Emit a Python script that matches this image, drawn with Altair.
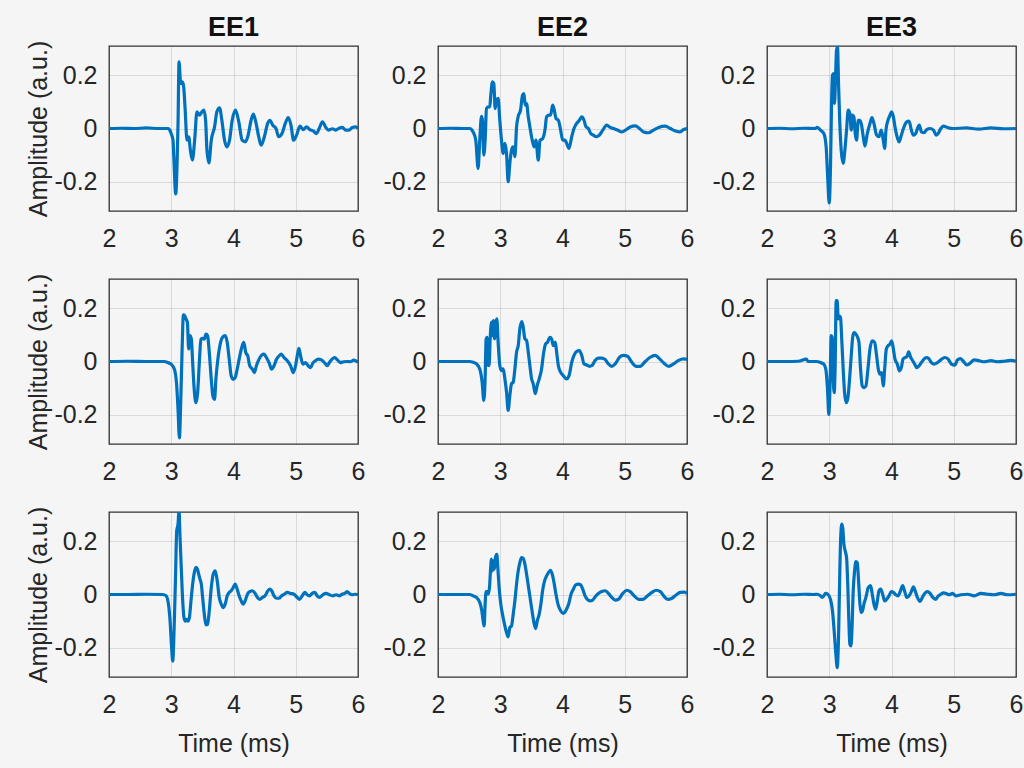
import altair as alt
import pandas as pd

# ---- Row 1 ----
T11 = [2.0, 2.2, 2.4, 2.6, 2.8, 2.95, 2.976, 3.0, 3.029, 3.04, 3.072, 3.095, 3.109, 3.125, 3.152, 3.179, 3.2, 3.221, 3.253, 3.28, 3.307, 3.339, 3.376, 3.413, 3.456, 3.493, 3.525, 3.552, 3.573, 3.605, 3.643, 3.696, 3.733, 3.776, 3.813, 3.856, 3.893, 3.936, 3.979, 4.032, 4.085, 4.139, 4.187, 4.229, 4.283, 4.32, 4.363, 4.405, 4.443, 4.496, 4.549, 4.587, 4.629, 4.683, 4.725, 4.779, 4.832, 4.88, 4.923, 4.965, 5.013, 5.067, 5.12, 5.173, 5.227, 5.28, 5.333, 5.376, 5.429, 5.483, 5.525, 5.589, 5.643, 5.696, 5.749, 5.803, 5.856, 5.909, 5.963, 6.0]
A11 = [0.0, 0.001, 0.0, 0.002, 0.0, 0.0, -0.006, -0.02, -0.044, -0.1, -0.246, -0.12, 0.02, 0.25, 0.169, 0.175, 0.156, 0.081, -0.044, -0.031, -0.081, -0.119, -0.044, 0.063, 0.05, 0.063, 0.069, 0.031, -0.081, -0.129, -0.044, 0.006, 0.063, 0.078, 0.031, -0.044, -0.069, -0.044, 0.031, 0.069, 0.025, -0.044, -0.05, -0.031, 0.031, 0.054, 0.019, -0.031, -0.063, -0.031, 0.019, 0.031, 0.013, 0.0, -0.031, -0.019, 0.019, 0.041, 0.013, -0.044, -0.025, 0.009, -0.004, 0.006, -0.004, -0.009, -0.019, 0.0, 0.025, 0.004, -0.006, -0.001, -0.006, 0.001, 0.004, -0.006, -0.006, 0.004, 0.006, 0.0]

T12 = [2.0, 2.2, 2.4, 2.51, 2.564, 2.607, 2.644, 2.671, 2.698, 2.714, 2.736, 2.757, 2.779, 2.811, 2.832, 2.848, 2.875, 2.897, 2.918, 2.94, 2.966, 2.993, 3.02, 3.047, 3.074, 3.101, 3.127, 3.154, 3.181, 3.208, 3.235, 3.262, 3.289, 3.326, 3.358, 3.38, 3.401, 3.423, 3.45, 3.476, 3.514, 3.546, 3.573, 3.611, 3.638, 3.681, 3.718, 3.745, 3.783, 3.809, 3.842, 3.868, 3.895, 3.933, 3.97, 4.003, 4.04, 4.067, 4.105, 4.148, 4.185, 4.228, 4.271, 4.309, 4.346, 4.378, 4.416, 4.454, 4.497, 4.54, 4.593, 4.647, 4.711, 4.765, 4.819, 4.883, 4.953, 5.023, 5.087, 5.168, 5.237, 5.302, 5.382, 5.463, 5.544, 5.651, 5.731, 5.812, 5.882, 5.946, 6.0]
A12 = [0.0, 0.001, 0.0, 0.0, -0.013, -0.044, -0.15, -0.044, 0.046, 0.031, -0.1, -0.044, 0.075, 0.081, 0.081, 0.125, 0.175, 0.169, 0.075, 0.106, 0.113, 0.031, -0.044, -0.094, -0.056, -0.094, -0.2, -0.131, -0.081, -0.069, -0.106, 0.006, 0.046, 0.069, 0.125, 0.131, 0.088, 0.094, 0.044, 0.006, -0.044, -0.069, -0.044, -0.119, -0.044, -0.038, -0.006, 0.044, 0.05, 0.05, 0.088, 0.069, 0.038, 0.031, -0.006, -0.044, -0.044, -0.056, -0.075, -0.031, 0.0, 0.019, 0.031, 0.044, 0.031, 0.006, 0.0, -0.019, -0.025, -0.031, -0.025, -0.006, 0.013, 0.004, 0.0, -0.006, -0.013, -0.004, 0.006, 0.01, 0.0, -0.013, -0.016, -0.006, 0.004, 0.009, 0.0, -0.009, -0.013, -0.004, 0.0]

T13 = [2.0, 2.2, 2.4, 2.6, 2.779, 2.805, 2.859, 2.913, 2.95, 2.977, 2.999, 3.02, 3.036, 3.052, 3.068, 3.085, 3.101, 3.117, 3.133, 3.149, 3.17, 3.192, 3.224, 3.251, 3.278, 3.305, 3.332, 3.353, 3.374, 3.396, 3.417, 3.439, 3.466, 3.493, 3.519, 3.546, 3.573, 3.611, 3.654, 3.686, 3.718, 3.761, 3.799, 3.836, 3.868, 3.89, 3.911, 3.944, 3.976, 4.003, 4.03, 4.056, 4.083, 4.121, 4.158, 4.201, 4.244, 4.282, 4.319, 4.351, 4.389, 4.427, 4.448, 4.48, 4.523, 4.566, 4.62, 4.674, 4.717, 4.749, 4.792, 4.835, 4.899, 4.98, 5.2, 5.4, 5.6, 5.8, 6.0]
A13 = [0.0, 0.001, -0.001, 0.001, 0.0, 0.004, -0.006, -0.019, -0.069, -0.194, -0.28, -0.144, 0.081, 0.2, 0.206, 0.094, 0.194, 0.294, 0.306, 0.169, 0.019, -0.081, -0.131, -0.081, -0.006, 0.069, 0.056, -0.006, 0.05, 0.044, -0.019, -0.044, 0.031, 0.031, 0.013, -0.031, -0.066, -0.019, 0.019, 0.041, 0.019, -0.025, -0.031, -0.006, -0.044, -0.075, -0.006, 0.031, 0.05, 0.063, 0.044, 0.006, -0.025, -0.05, -0.025, 0.006, 0.025, 0.028, -0.006, -0.025, -0.019, 0.006, 0.013, -0.013, -0.016, -0.004, 0.0, -0.006, -0.025, -0.019, 0.0, 0.009, 0.004, 0.0, 0.002, -0.002, 0.002, -0.001, 0.0]

# ---- Row 2 ----
T21 = [2.0, 2.3, 2.6, 2.891, 2.944, 2.997, 3.051, 3.088, 3.109, 3.131, 3.152, 3.173, 3.195, 3.216, 3.237, 3.259, 3.28, 3.301, 3.323, 3.344, 3.365, 3.397, 3.424, 3.451, 3.477, 3.504, 3.531, 3.557, 3.584, 3.611, 3.643, 3.669, 3.696, 3.717, 3.749, 3.781, 3.824, 3.867, 3.899, 3.931, 3.963, 3.995, 4.027, 4.059, 4.091, 4.133, 4.165, 4.197, 4.229, 4.261, 4.304, 4.336, 4.368, 4.411, 4.453, 4.491, 4.528, 4.571, 4.613, 4.651, 4.693, 4.731, 4.768, 4.811, 4.864, 4.917, 4.96, 4.997, 5.029, 5.051, 5.083, 5.115, 5.157, 5.2, 5.237, 5.275, 5.317, 5.36, 5.413, 5.467, 5.504, 5.541, 5.584, 5.627, 5.669, 5.717, 5.771, 5.824, 5.877, 5.931, 6.0]
A21 = [0.0, 0.001, 0.0, 0.0, -0.004, -0.01, -0.029, -0.092, -0.18, -0.287, -0.155, 0.034, 0.175, 0.172, 0.16, 0.147, 0.047, 0.097, 0.084, -0.004, -0.092, -0.155, -0.117, -0.004, 0.084, 0.087, 0.084, 0.103, 0.097, 0.034, -0.067, -0.13, -0.142, -0.067, 0.009, 0.059, 0.091, 0.097, 0.072, 0.009, -0.054, -0.067, -0.06, -0.029, 0.009, 0.053, 0.072, 0.034, 0.021, -0.016, -0.029, -0.042, -0.016, 0.009, 0.024, 0.028, 0.015, -0.004, -0.029, -0.016, 0.009, 0.021, 0.028, 0.015, 0.003, -0.016, -0.042, -0.016, 0.028, 0.049, 0.015, -0.01, -0.004, -0.016, -0.023, -0.006, 0.003, 0.009, 0.006, -0.006, -0.016, -0.004, 0.009, 0.015, 0.006, -0.004, -0.001, 0.0, -0.001, 0.005, -0.003]

T22 = [2.0, 2.3, 2.51, 2.564, 2.618, 2.671, 2.709, 2.736, 2.757, 2.773, 2.789, 2.805, 2.821, 2.838, 2.859, 2.875, 2.891, 2.907, 2.923, 2.945, 2.966, 2.993, 3.02, 3.047, 3.074, 3.101, 3.127, 3.154, 3.181, 3.208, 3.235, 3.262, 3.289, 3.315, 3.347, 3.369, 3.396, 3.423, 3.45, 3.476, 3.503, 3.53, 3.562, 3.594, 3.626, 3.664, 3.691, 3.728, 3.761, 3.798, 3.825, 3.852, 3.884, 3.906, 3.933, 3.97, 4.013, 4.067, 4.105, 4.148, 4.185, 4.228, 4.271, 4.309, 4.346, 4.389, 4.432, 4.475, 4.523, 4.577, 4.631, 4.684, 4.738, 4.792, 4.846, 4.916, 4.98, 5.044, 5.114, 5.184, 5.248, 5.329, 5.409, 5.49, 5.56, 5.624, 5.705, 5.785, 5.866, 5.946, 6.0]
A22 = [0.0, 0.0, 0.0, -0.003, -0.009, -0.028, -0.078, -0.146, -0.065, 0.085, 0.091, -0.015, -0.015, 0.085, 0.148, 0.098, 0.154, 0.085, 0.135, 0.16, 0.073, -0.015, -0.034, -0.028, -0.065, -0.115, -0.184, -0.128, -0.084, -0.078, -0.028, 0.035, 0.06, 0.123, 0.15, 0.129, 0.085, 0.079, 0.035, -0.015, -0.065, -0.084, -0.121, -0.09, -0.065, -0.028, 0.023, 0.066, 0.073, 0.091, 0.085, 0.06, 0.073, 0.035, -0.015, -0.04, -0.053, -0.065, -0.053, -0.003, 0.023, 0.038, 0.041, 0.023, -0.009, -0.013, -0.018, -0.015, 0.004, 0.013, 0.013, 0.008, -0.009, -0.018, -0.009, 0.016, 0.023, 0.02, -0.003, -0.018, -0.018, 0.0, 0.016, 0.023, 0.01, -0.005, -0.018, -0.009, 0.004, 0.01, 0.008]

T23 = [2.0, 2.3, 2.5, 2.633, 2.66, 2.8, 2.859, 2.913, 2.945, 2.972, 2.993, 3.015, 3.031, 3.047, 3.063, 3.079, 3.095, 3.111, 3.127, 3.144, 3.16, 3.181, 3.203, 3.224, 3.246, 3.273, 3.3, 3.326, 3.353, 3.38, 3.401, 3.428, 3.455, 3.477, 3.503, 3.53, 3.557, 3.589, 3.621, 3.654, 3.691, 3.729, 3.761, 3.788, 3.815, 3.841, 3.868, 3.89, 3.917, 3.944, 3.976, 4.003, 4.03, 4.056, 4.094, 4.126, 4.158, 4.185, 4.217, 4.249, 4.276, 4.309, 4.341, 4.373, 4.405, 4.443, 4.48, 4.523, 4.555, 4.598, 4.641, 4.684, 4.738, 4.792, 4.856, 4.91, 4.963, 5.017, 5.06, 5.103, 5.157, 5.21, 5.264, 5.329, 5.409, 5.49, 5.597, 5.705, 5.812, 5.919, 6.0]
A23 = [0.0, 0.0, 0.001, 0.009, 0.0, 0.0, -0.004, -0.01, -0.029, -0.104, -0.199, -0.067, 0.097, 0.091, -0.054, -0.117, -0.016, 0.229, 0.229, 0.16, 0.172, 0.166, 0.072, -0.029, -0.117, -0.155, -0.136, -0.067, 0.021, 0.097, 0.109, 0.103, 0.091, 0.072, -0.029, -0.092, -0.098, -0.092, -0.029, 0.047, 0.078, 0.072, 0.021, -0.029, -0.048, -0.042, -0.092, -0.029, 0.047, 0.059, 0.065, 0.078, 0.047, 0.009, -0.01, -0.035, -0.023, 0.009, 0.015, 0.019, 0.036, 0.015, 0.003, -0.01, -0.023, -0.016, -0.004, 0.009, 0.015, 0.011, -0.004, -0.01, -0.004, 0.006, 0.015, 0.009, -0.01, -0.014, 0.006, 0.011, 0.0, -0.013, -0.006, 0.006, 0.003, -0.001, 0.003, -0.001, 0.001, 0.004, 0.001]

# ---- Row 3 ----
T31 = [2.0, 2.3, 2.6, 2.864, 2.917, 2.955, 2.981, 3.003, 3.024, 3.045, 3.067, 3.088, 3.109, 3.125, 3.141, 3.163, 3.184, 3.205, 3.227, 3.248, 3.269, 3.291, 3.317, 3.344, 3.371, 3.397, 3.419, 3.44, 3.461, 3.483, 3.504, 3.531, 3.557, 3.584, 3.611, 3.643, 3.675, 3.707, 3.739, 3.771, 3.803, 3.835, 3.867, 3.899, 3.931, 3.963, 3.995, 4.027, 4.059, 4.091, 4.123, 4.155, 4.187, 4.224, 4.261, 4.304, 4.347, 4.384, 4.421, 4.464, 4.507, 4.544, 4.581, 4.613, 4.651, 4.688, 4.731, 4.773, 4.816, 4.864, 4.917, 4.971, 5.024, 5.061, 5.104, 5.147, 5.184, 5.221, 5.264, 5.307, 5.344, 5.381, 5.435, 5.488, 5.541, 5.595, 5.648, 5.701, 5.744, 5.787, 5.824, 5.861, 5.904, 5.957, 6.0]
A31 = [0.0, 0.0, 0.001, 0.0, -0.005, -0.036, -0.099, -0.188, -0.25, -0.137, 0.051, 0.24, 0.265, 0.315, 0.215, 0.089, -0.024, -0.087, -0.1, -0.093, -0.1, -0.087, -0.024, 0.039, 0.083, 0.102, 0.096, 0.077, 0.058, 0.039, -0.011, -0.074, -0.114, -0.112, -0.061, 0.026, 0.077, 0.089, 0.051, -0.011, -0.036, -0.049, -0.036, -0.005, 0.008, 0.014, 0.026, 0.039, 0.02, -0.005, -0.024, -0.036, -0.024, 0.001, 0.011, 0.014, 0.004, -0.011, -0.018, -0.011, -0.005, 0.011, 0.02, 0.014, -0.005, -0.014, -0.014, -0.005, 0.001, 0.008, 0.004, 0.001, -0.011, -0.018, -0.005, 0.008, -0.001, -0.005, 0.004, 0.008, -0.005, -0.011, -0.001, 0.004, -0.001, -0.005, -0.001, -0.005, 0.001, 0.004, 0.011, 0.004, -0.001, 0.001, 0.0]

T32 = [2.0, 2.3, 2.51, 2.564, 2.618, 2.671, 2.704, 2.725, 2.741, 2.757, 2.773, 2.789, 2.805, 2.827, 2.843, 2.859, 2.875, 2.891, 2.907, 2.923, 2.945, 2.961, 2.982, 3.009, 3.036, 3.068, 3.101, 3.127, 3.154, 3.181, 3.208, 3.235, 3.262, 3.289, 3.315, 3.342, 3.369, 3.396, 3.423, 3.455, 3.487, 3.519, 3.546, 3.568, 3.594, 3.626, 3.653, 3.68, 3.712, 3.745, 3.777, 3.809, 3.842, 3.868, 3.895, 3.927, 3.97, 4.013, 4.056, 4.099, 4.137, 4.174, 4.212, 4.255, 4.292, 4.325, 4.362, 4.399, 4.442, 4.485, 4.523, 4.577, 4.631, 4.684, 4.738, 4.792, 4.846, 4.899, 4.969, 5.034, 5.087, 5.152, 5.222, 5.292, 5.367, 5.437, 5.507, 5.571, 5.625, 5.689, 5.759, 5.829, 5.893, 5.957, 6.0]
A32 = [0.0, 0.0, 0.0, -0.005, -0.011, -0.03, -0.061, -0.099, -0.118, -0.036, 0.011, 0.011, 0.001, 0.026, 0.089, 0.133, 0.089, 0.126, 0.095, 0.139, 0.151, 0.101, 0.026, -0.036, -0.074, -0.111, -0.143, -0.159, -0.124, -0.118, -0.074, -0.024, 0.039, 0.089, 0.12, 0.139, 0.136, 0.114, 0.076, 0.026, -0.024, -0.074, -0.111, -0.128, -0.099, -0.074, -0.036, 0.014, 0.051, 0.07, 0.083, 0.091, 0.07, 0.039, 0.001, -0.036, -0.061, -0.071, -0.059, -0.036, 0.001, 0.02, 0.036, 0.039, 0.036, 0.02, -0.005, -0.018, -0.024, -0.021, -0.009, 0.004, 0.011, 0.014, 0.004, -0.011, -0.021, -0.018, 0.004, 0.016, 0.011, -0.005, -0.018, -0.018, -0.005, 0.008, 0.016, 0.011, -0.005, -0.018, -0.014, -0.001, 0.008, 0.009, 0.004]

T33 = [2.0, 2.2, 2.4, 2.6, 2.752, 2.805, 2.859, 2.886, 2.913, 2.94, 2.977, 3.02, 3.052, 3.079, 3.106, 3.128, 3.149, 3.17, 3.186, 3.203, 3.219, 3.235, 3.256, 3.278, 3.299, 3.315, 3.331, 3.348, 3.364, 3.385, 3.407, 3.428, 3.45, 3.471, 3.493, 3.514, 3.535, 3.557, 3.589, 3.627, 3.664, 3.691, 3.718, 3.745, 3.772, 3.799, 3.826, 3.858, 3.89, 3.922, 3.96, 3.997, 4.03, 4.067, 4.105, 4.148, 4.18, 4.212, 4.244, 4.282, 4.319, 4.351, 4.384, 4.416, 4.459, 4.496, 4.534, 4.577, 4.62, 4.663, 4.711, 4.749, 4.792, 4.835, 4.878, 4.926, 4.98, 5.034, 5.114, 5.221, 5.329, 5.436, 5.544, 5.651, 5.758, 5.866, 6.0]
A33 = [0.0, 0.001, -0.001, 0.001, 0.0, 0.001, -0.005, -0.011, -0.005, 0.004, 0.001, -0.018, -0.061, -0.137, -0.224, -0.275, -0.162, 0.089, 0.227, 0.265, 0.246, 0.19, 0.164, 0.139, 0.026, -0.099, -0.187, -0.193, -0.137, 0.014, 0.089, 0.124, 0.12, 0.051, -0.036, -0.068, -0.061, -0.036, -0.011, 0.026, 0.033, 0.001, -0.036, -0.055, -0.024, 0.014, 0.02, 0.001, -0.024, -0.018, -0.005, 0.011, 0.008, -0.001, -0.005, 0.016, 0.033, 0.011, -0.011, -0.005, 0.011, 0.029, 0.011, -0.011, -0.026, -0.011, 0.004, 0.011, 0.004, -0.011, -0.018, -0.006, 0.001, 0.006, 0.004, -0.001, 0.004, -0.005, -0.001, 0.001, -0.005, 0.004, 0.001, -0.001, 0.004, -0.001, 0.001]

COLUMN_TITLES = ["EE1", "EE2", "EE3"]
X_TICKS = [2, 3, 4, 5, 6]
Y_TICKS = [-0.2, 0, 0.2]

SERIES = [
    [(T11, A11), (T12, A12), (T13, A13)],
    [(T21, A21), (T22, A22), (T23, A23)],
    [(T31, A31), (T32, A32), (T33, A33)],
]

FONT = "Liberation Sans"
TXT = "#262626"

def panel(t, a, r, c):
    df = pd.DataFrame({"t": t, "a": a})
    x_kwargs = dict(values=X_TICKS, format="d", labelPadding=15, labelFlush=False)
    x_kwargs["title"] = "Time (ms)" if r == 2 else None
    y_kwargs = dict(
        values=Y_TICKS,
        labelExpr="datum.value == 0 ? '0' : (datum.value < 0 ? '-' + format(-datum.value, '.1f') : format(datum.value, '.1f'))",
        labelPadding=12, labelFlush=False,
    )
    y_kwargs["title"] = "Amplitude (a.u.)" if c == 0 else None
    ch = alt.Chart(df).mark_line(
        color="#0072BD", strokeWidth=3.2, clip=True, interpolate="monotone"
    ).encode(
        x=alt.X("t:Q", scale=alt.Scale(domain=[2, 6], nice=False, zero=False), axis=alt.Axis(**x_kwargs)),
        y=alt.Y("a:Q", scale=alt.Scale(domain=[-0.31, 0.31], nice=False, zero=False), axis=alt.Axis(**y_kwargs)),
    ).properties(width=249, height=165)
    if r == 0:
        ch = ch.properties(title=alt.TitleParams(
            COLUMN_TITLES[c], fontSize=27, fontWeight="bold", font=FONT, color="#111111",
            frame="group", anchor="middle", offset=(-2 if c == 0 else 4)))
    return ch

panels = [panel(t, a, r, c) for r in range(3) for c, (t, a) in enumerate(SERIES[r])]

chart = alt.concat(*panels, columns=3, spacing={"row": 68, "column": 80}, bounds="flush").properties(
    background="#f5f5f5",
    padding={"left": 26, "top": 13, "right": 0, "bottom": 11},
).configure_view(
    stroke="#333333", strokeWidth=1.3, fill="#f5f5f5"
).configure_axis(
    domain=False, ticks=False, grid=True, gridColor="#262626", gridOpacity=0.13, gridWidth=1,
    labelFont=FONT, labelFontSize=25, labelColor=TXT,
    titleFont=FONT, titleFontSize=25, titleFontWeight="normal", titleColor=TXT,
).configure_axisY(titlePadding=2).configure_axisX(titlePadding=14)

chart.save("out.html", embed_options={"renderer": "svg", "actions": False})
